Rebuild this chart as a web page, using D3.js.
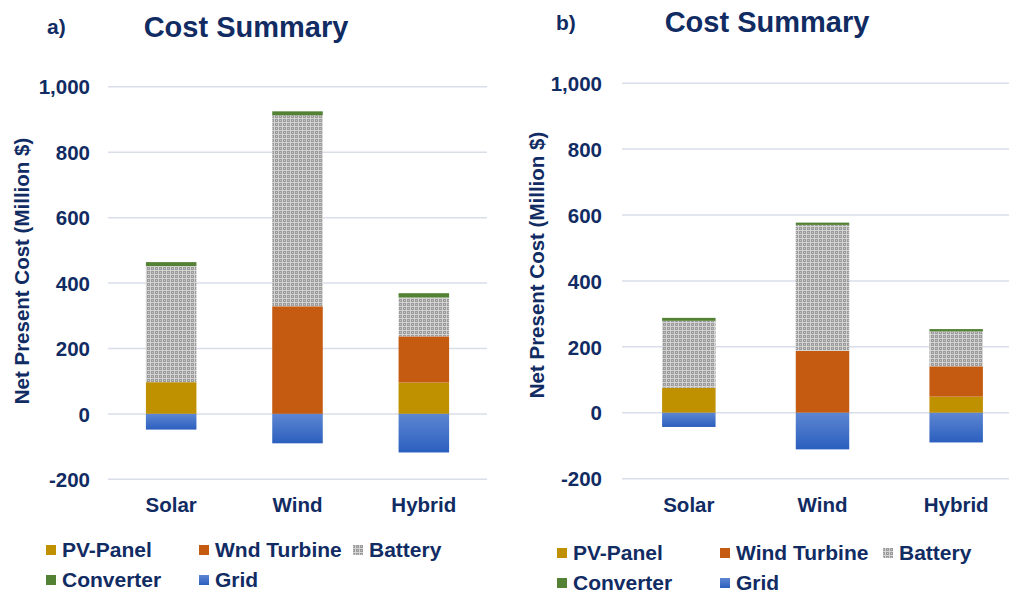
<!DOCTYPE html>
<html>
<head>
<meta charset="utf-8">
<script src="https://cdn.jsdelivr.net/npm/d3@7"></script>
<style>
  body { margin: 0; background: #fff; }
  svg text { font-family: 'Liberation Sans', Arial, sans-serif; font-weight: bold; fill: #112b63; }
</style>
</head>
<body>
<script>
var width = 1009
var height = 594

var categories = ['Solar', 'Wind', 'Hybrid']
var seriesKeys = ['PV-Panel', 'Wind Turbine', 'Battery', 'Converter', 'Grid']
var yTicks = [-200, 0, 200, 400, 600, 800, 1000]

// panel a values (million $)
var pvA        = [97, 0, 96]
var windA      = [0, 329, 141]
var batteryA   = [355, 584, 119]
var converterA = [12, 12, 13]
var gridA      = [-48, -90, -118]
var legendA    = ['PV-Panel', 'Wnd Turbine', 'Battery', 'Converter', 'Grid']

// panel b values (million $)
var pvB        = [76, 0, 49]
var windB      = [0, 188, 92]
var batteryB   = [203, 382, 106]
var converterB = [9, 7, 7]
var gridB      = [-43, -111, -90]
var legendB    = ['PV-Panel', 'Wind Turbine', 'Battery', 'Converter', 'Grid']

var colors = {
  'PV-Panel': '#bf9000',
  'Wind Turbine': '#c55a11',
  'Battery': 'url(#battery)',
  'Converter': '#548235',
  'Grid': 'url(#gridFill)'
}

var svg = d3.select('body')
  .append('svg')
  .attr('width', width)
  .attr('height', height)

var defs = svg.append('defs')

// checkered grey pattern for battery
var pat = defs.append('pattern')
  .attr('id', 'battery')
  .attr('patternUnits', 'userSpaceOnUse')
  .attr('width', 4).attr('height', 4)
pat.append('rect').attr('width', 4).attr('height', 4).attr('fill', '#9c9c9c')
pat.append('rect').attr('x', 0).attr('y', 2).attr('width', 4).attr('height', 1).attr('fill', '#d4d4d4')
pat.append('rect').attr('x', 2).attr('y', 0).attr('width', 1).attr('height', 4).attr('fill', '#d4d4d4')
pat.append('rect').attr('x', 0).attr('y', 0).attr('width', 1).attr('height', 1).attr('fill', '#c4c4c4')

var grad = defs.append('linearGradient')
  .attr('id', 'gridFill')
  .attr('x1', 0).attr('y1', 0).attr('x2', 0).attr('y2', 1)
grad.append('stop').attr('offset', '0%').attr('stop-color', '#5d86d2')
grad.append('stop').attr('offset', '100%').attr('stop-color', '#2b5fbe')

var fmt = d => d3.format(',')(d).replace('−', '-')

function drawPanel(p) {
  var rows = categories.map((c, i) => ({
    cat: c,
    'PV-Panel': p.pv[i],
    'Wind Turbine': p.wind[i],
    'Battery': p.battery[i],
    'Converter': p.converter[i],
    'Grid': p.grid[i]
  }))

  var xScale = d3.scaleBand()
    .domain(categories)
    .range([p.left, p.right])
    .paddingInner(0.6)
    .paddingOuter(0.3)

  var yScale = d3.scaleLinear()
    .domain([-200, 1000])
    .range([p.bottom, p.top])

  var g = svg.append('g')

  // gridlines
  g.selectAll('.gl')
    .data(yTicks)
    .enter().append('line')
    .attr('x1', p.left).attr('x2', p.right)
    .attr('y1', d => yScale(d)).attr('y2', d => yScale(d))
    .attr('stroke', '#d9deea')
    .attr('stroke-width', 1.5)

  var yAxis = d3.axisLeft(yScale)
    .tickValues(yTicks)
    .tickFormat(fmt)
    .tickSize(0)
    .tickPadding(0)

  g.append('g')
    .attr('transform', 'translate(' + [p.tickX, 0] + ')')
    .call(yAxis)
    .call(a => a.select('.domain').remove())
    .selectAll('text')
    .attr('font-size', 20.5)
    .attr('dy', '0.35em')

  var stack = d3.stack()
    .keys(seriesKeys)
    .offset(d3.stackOffsetDiverging)

  g.selectAll('.series')
    .data(stack(rows))
    .enter().append('g')
    .attr('fill', d => colors[d.key])
    .selectAll('rect')
    .data(d => d)
    .enter().append('rect')
    .attr('x', d => xScale(d.data.cat))
    .attr('width', xScale.bandwidth())
    .attr('y', d => yScale(d[1]))
    .attr('height', d => yScale(d[0]) - yScale(d[1]))

  var xAxis = d3.axisBottom(xScale).tickSize(0).tickPadding(0)
  g.append('g')
    .attr('transform', 'translate(' + [0, p.labelY] + ')')
    .call(xAxis)
    .call(a => a.select('.domain').remove())
    .selectAll('text')
    .attr('font-size', 20.5)
    .attr('dy', '0.35em')

  // axis title
  g.append('text')
    .attr('transform', 'translate(' + [p.titleX, p.titleY] + ') rotate(-90)')
    .attr('text-anchor', 'middle')
    .attr('dy', '0.35em')
    .attr('font-size', 20.5)
    .text('Net Present Cost (Million $)')

  // chart title and panel label
  g.append('text')
    .attr('x', p.headX).attr('y', p.headY)
    .attr('text-anchor', 'middle')
    .attr('font-size', 29)
    .text('Cost Summary')

  g.append('text')
    .attr('x', p.tagX).attr('y', p.tagY)
    .attr('font-size', 21)
    .text(p.tag)

  // legend
  var cols = [p.legX, p.legX + p.legStep1, p.legX + p.legStep2]
  var legItems = seriesKeys.map((k, i) => ({
    key: k,
    label: p.legend[i],
    x: i < 3 ? cols[i] : cols[i - 3],
    y: i < 3 ? p.legY : p.legY + 30
  }))

  var leg = g.selectAll('.leg')
    .data(legItems)
    .enter().append('g')
    .attr('transform', d => 'translate(' + [d.x, d.y] + ')')

  leg.append('rect')
    .attr('x', 0).attr('y', -5)
    .attr('width', 10).attr('height', 10)
    .attr('fill', d => colors[d.key])

  leg.append('text')
    .attr('x', 16)
    .attr('dy', '0.35em')
    .attr('font-size', 21)
    .text(d => d.label)
}

drawPanel({
  pv: pvA, wind: windA, battery: batteryA, converter: converterA, grid: gridA,
  legend: legendA, tag: 'a)',
  left: 108, right: 487, top: 86.8, bottom: 479.3,
  tickX: 90, labelY: 505, titleX: 22, titleY: 271,
  headX: 246, headY: 37, tagX: 47, tagY: 34,
  legX: 46, legY: 550, legStep1: 153, legStep2: 307
})

drawPanel({
  pv: pvB, wind: windB, battery: batteryB, converter: converterB, grid: gridB,
  legend: legendB, tag: 'b)',
  left: 622, right: 1023, top: 83.2, bottom: 478.7,
  tickX: 602, labelY: 505, titleX: 537, titleY: 265,
  headX: 767, headY: 32, tagX: 556, tagY: 30,
  legX: 557, legY: 553, legStep1: 163, legStep2: 326
})
</script>
</body>
</html>
